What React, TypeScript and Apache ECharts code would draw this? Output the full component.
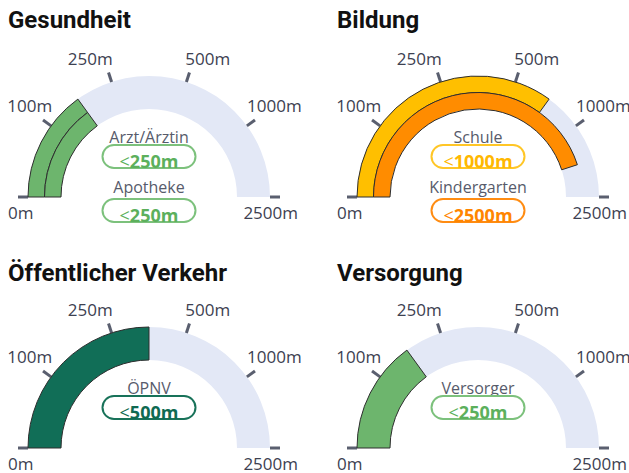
import React, { useEffect, useRef } from "react";
import * as echarts from "echarts";

// ---- data ----
const tickLabels = ["0m", "100m", "250m", "500m", "1000m", "2500m"];
const panelTitles = ["Gesundheit", "Bildung", "Öffentlicher Verkehr", "Versorgung"];

const gesundheitNames = ["Arzt/Ärztin", "Apotheke"];
const gesundheitValues = ["<250m", "<250m"];
const bildungNames = ["Schule", "Kindergarten"];
const bildungValues = ["<1000m", "<2500m"];
const verkehrNames = ["ÖPNV"];
const verkehrValues = ["<500m"];
const versorgungNames = ["Versorger"];
const versorgungValues = ["<250m"];

// ---- styles ----
const GREEN = { fill: "#6db56d", border: "#7cc17c", text: "#5cb05c" };
const YELLOW = { fill: "#ffbf00", border: "#ffc626", text: "#ffb800" };
const ORANGE = { fill: "#ff8c00", border: "#ff8c12", text: "#ff8500" };
const TEAL = { fill: "#116e57", border: "#187259", text: "#0f6a52" };

const LABEL_FONT = "'Open Sans', 'Noto Sans', sans-serif";
const R = 121;
const BAND = 33;
const TITLE_OFF = [-60, -10];
const DETAIL_OFF = [-40.5, 13.5];

// threshold string "<250m" -> midpoint of the segment ending at that tick
function toValue(s: string): number {
  const idx = tickLabels.indexOf(s.replace("<", ""));
  return idx - 0.5;
}

const labelRich: any = {};
const labelPads = [
  [31, 0, 0, 49],
  [40, 0, 0, 12],
  [34, 0, 0, 0],
  [34, 0, 0, 0],
  [40, 1, 0, 0],
  [31, 41, 0, 0],
];
tickLabels.forEach((_, i) => {
  labelRich["t" + i] = {
    fontSize: 17,
    fontFamily: LABEL_FONT,
    color: "#3d4151",
    padding: labelPads[i],
  };
});

function makeGauge(center: number[], names: string[], values: string[], styles: any[]) {
  return {
    type: "gauge",
    center,
    radius: R,
    startAngle: 180,
    endAngle: 0,
    min: 0,
    max: 5,
    splitNumber: 5,
    axisLine: { show: true, roundCap: false, lineStyle: { width: BAND, color: [[1, "#e3e8f6"]] } },
    progress: { show: true, overlap: false, width: BAND, roundCap: false, clip: false },
    pointer: { show: false },
    anchor: { show: false },
    axisTick: { show: false },
    splitLine: { show: true, length: 10, distance: -43, lineStyle: { width: 3, color: "#5a5f6f" } },
    axisLabel: {
      show: true,
      distance: -36,
      formatter: (v: number) => `{t${Math.round(v)}|${tickLabels[Math.round(v)]}}`,
      rich: labelRich,
    },
    title: { show: true, fontSize: 16, fontFamily: LABEL_FONT, color: "#575b6b" },
    detail: {
      show: true,
      valueAnimation: false,
      width: 91,
      height: 21,
      padding: 0,
      borderWidth: 2,
      borderRadius: 12,
      backgroundColor: "#ffffff",
    },
    data: names.map((n, i) => {
      const st = styles[i];
      return {
        name: n,
        value: toValue(values[i]),
        itemStyle: { color: st.fill, borderColor: "#2e2e2e", borderWidth: 1 },
        title: { offsetCenter: [0, TITLE_OFF[i]] },
        detail: {
          offsetCenter: [0, DETAIL_OFF[i]],
          borderColor: st.border,
          formatter: (v: number) => `{lt|<}{num|${tickLabels[Math.round(v + 0.5)]}}`,
          rich: {
            lt: { fontSize: 18, fontWeight: "normal", color: st.text, fontFamily: LABEL_FONT },
            num: { fontSize: 18, fontWeight: "bold", color: st.text, fontFamily: LABEL_FONT },
          },
        },
      };
    }),
  };
}

export default function App() {
  const ref = useRef<HTMLDivElement>(null);
  useEffect(() => {
    if (!ref.current) return;
    const chart = echarts.init(ref.current, null, { renderer: "svg" });
    const titleStyle = {
      fontSize: 24,
      fontWeight: "bold",
      fontFamily: "Roboto, sans-serif",
      color: "#111111",
      lineHeight: 24,
    };
    const titlePos = [
      [8, 8],
      [337, 8],
      [8, 261],
      [337, 261],
    ];
    chart.setOption({
      animation: false,
      backgroundColor: "#ffffff",
      title: panelTitles.map((t, i) => ({
        text: t,
        left: titlePos[i][0],
        top: titlePos[i][1],
        padding: 0,
        textStyle: titleStyle,
      })),
      series: [
        makeGauge([149, 197], gesundheitNames, gesundheitValues, [GREEN, GREEN]),
        makeGauge([478, 197], bildungNames, bildungValues, [YELLOW, ORANGE]),
        makeGauge([149, 448], verkehrNames, verkehrValues, [TEAL]),
        makeGauge([478, 448], versorgungNames, versorgungValues, [GREEN]),
      ],
    });
    return () => chart.dispose();
  }, []);
  return (
    <div
      ref={ref}
      style={{ position: "fixed", left: 0, top: 0, width: 629, height: 473 }}
    />
  );
}
